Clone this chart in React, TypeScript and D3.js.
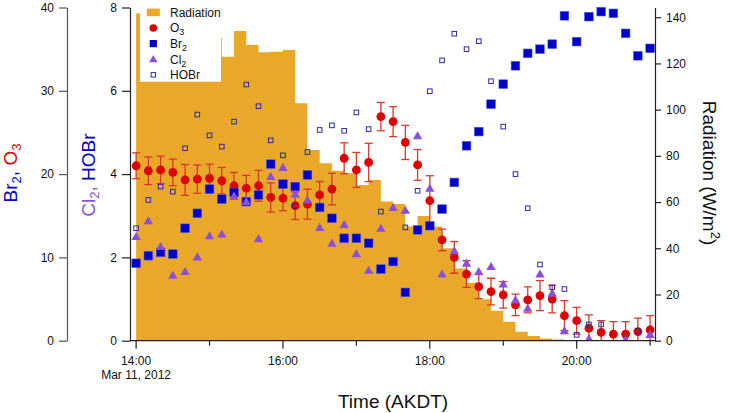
import React, { useEffect, useRef } from "react";
import * as d3 from "d3";

// sample times (10 min steps), Mar 11 2012, AKDT
const times = [
  "14:00", "14:10", "14:20", "14:30", "14:40", "14:50", "15:00", "15:10", "15:20", "15:30",
  "15:40", "15:50", "16:00", "16:10", "16:20", "16:30", "16:40", "16:50", "17:00", "17:10",
  "17:20", "17:30", "17:40", "17:50", "18:00", "18:10", "18:20", "18:30", "18:40", "18:50",
  "19:00", "19:10", "19:20", "19:30", "19:40", "19:50", "20:00", "20:10", "20:20", "20:30",
  "20:40", "20:50", "21:00",
];

// W/m2, step bars starting at each time
const radiation = [
  141.6, 143.0, 144.2, 142.5, 140.0, 137.5, 131.0, 122.9, 134.0, 128.0,
  124.8, 125.1, 125.8, 102.8, 82.5, 76.8, 73.5, 72.5, 67.4, 69.6,
  60.2, 59.2, 49.4, 54.0, 49.4, 40.0, 31.3, 25.1, 17.9, 13.0,
  8.2, 3.9, 2.0, 1.0, 0.5, 0.3, 0.2, 0.1, 0.1, 0.1,
  0.1, 0.1, 0.1,
];

// left axis (Br2, O3)
const o3 = [
  21.0, 20.4, 20.5, 20.2, 19.3, 19.4, 19.5, 19.2, 18.6, 18.3,
  18.6, 17.2, 17.1, 16.2, 16.4, 17.5, 18.2, 21.9, 20.5, 21.4,
  26.9, 26.3, 23.8, 21.1, 16.8, 12.1, 10.0, 8.0, 6.5, 5.9,
  5.5, 4.3, 4.9, 5.4, 5.0, 3.0, 2.4, 1.5, 1.0, 0.8,
  0.8, 1.1, 1.3,
];
const o3Err = [
  1.55, 1.65, 1.65, 1.6, 1.85, 1.7, 1.7, 1.6, 1.6, 1.55,
  1.85, 1.75, 1.5, 1.65, 1.8, 1.6, 1.9, 1.85, 2.1, 2.3,
  1.7, 1.8, 2.05, 1.85, 3.0, 1.3, 1.9, 1.6, 1.45, 1.6,
  1.6, 1.3, 1.55, 1.8, 1.65, 1.8, 1.6, 1.6, 1.4, 1.5,
  1.5, 1.6, 1.7,
];
const br2 = [
  9.3, 10.2, 10.6, 10.4, 13.5, 15.3, 18.2, 17.0, 17.8, 16.7,
  17.5, 21.2, 18.8, 18.5, 19.9, 16.0, 14.7, 12.3, 12.3, 11.7,
  8.6, 9.5, 5.8, 13.3, 13.8, 15.8, 19.0, 23.4, 25.1, 28.4,
  30.8, 33.0, 34.5, 35.0, 35.6, 39.0, 35.9, 38.9, 39.5, 39.3,
  36.9, 34.2, 35.1,
];

// second axis (Cl2, HOBr)
const cl2 = [
  2.50, 2.88, 2.26, 1.57, 1.66, 2.01, 2.52, 2.56, 3.48, 3.34,
  2.45, 3.94, 4.16, 3.52, 3.38, 2.72, 2.34, 2.79, 2.09, 1.69,
  2.70, 3.20, 3.13, 4.92, 3.66, 1.60, 2.16, 1.86, 1.66, 1.78,
  1.36, 0.98, 0.78, 1.60, 1.14, 0.24, null, 0.05, null, null,
  0.03, null, 0.15,
];
const hobr = [
  2.70, 3.38, 3.70, 3.58, 4.62, 5.43, 4.93, 4.66, 5.26, 6.15,
  5.63, 4.81, 4.45, 3.24, 4.53, 5.06, 5.17, 5.04, 5.48, 5.08,
  3.10, null, 2.72, 3.60, 5.99, 6.73, 7.37, 7.00, 7.19, 6.23,
  5.14, 4.00, 3.18, 1.83, 1.28, 1.24, 0.14, 0.39, 0.39, null,
  null, 0.23, null,
];

const leftTicks = [0, 10, 20, 30, 40];
const clTicks = [0, 2, 4, 6, 8];
const radTicks = [0, 20, 40, 60, 80, 100, 120, 140];
const hourTicks = ["14:00", "15:00", "16:00", "17:00", "18:00", "19:00", "20:00", "21:00"];
const hourLabels = ["14:00", "16:00", "18:00", "20:00"];

const ORANGE = "#e9a82a";
const RED = "#dd0000";
const ERR = "#d8392c";
const BLUE = "#0000c8";
const PURPLE = "#8a4fdc";
const HOBR = "#2a2aa6";
const FONT = "'Liberation Sans', Arial, sans-serif";

export default function App() {
  const ref = useRef<SVGSVGElement | null>(null);

  useEffect(() => {
    const svg = d3.select(ref.current);
    svg.selectAll("*").remove();

    const W = 731, H = 413;
    const plot = { left: 130, right: 655, top: 7.5, bottom: 340.7 };
    const parse = d3.timeParse("%Y-%m-%d %H:%M");
    const T = (s: string) => parse("2012-03-11 " + s) as Date;

    const x = d3.scaleTime().domain([T("13:55"), T("21:04")]).range([plot.left, plot.right]);
    const yL = d3.scaleLinear().domain([0, 40]).range([plot.bottom, plot.top]);
    const yC = d3.scaleLinear().domain([0, 8]).range([plot.bottom, plot.top]);
    const yR = d3.scaleLinear().domain([0, 144.2]).range([plot.bottom, plot.top]);

    svg.attr("width", W).attr("height", H).attr("viewBox", `0 0 ${W} ${H}`)
      .style("font-family", FONT);

    svg.append("defs").append("clipPath").attr("id", "plotclip")
      .append("rect").attr("x", plot.left).attr("y", 0)
      .attr("width", plot.right - plot.left).attr("height", plot.bottom);

    const pts = times.map((s, i) => ({
      t: T(s), rad: radiation[i], o3: o3[i], err: o3Err[i], br2: br2[i], cl2: cl2[i], hobr: hobr[i],
    }));

    // radiation step area
    const stepData = pts.map(p => ({ t: p.t, v: p.rad }));
    stepData.push({ t: d3.timeMinute.offset(pts[pts.length - 1].t, 10), v: pts[pts.length - 1].rad });
    const area = d3.area<{ t: Date; v: number }>()
      .x(d => x(d.t)).y0(plot.bottom).y1(d => yR(d.v)).curve(d3.curveStepAfter);
    const g = svg.append("g").attr("clip-path", "url(#plotclip)");
    g.append("path").datum(stepData).attr("d", area as any).attr("fill", ORANGE);

    // O3 error bars
    const eb = g.append("g").attr("stroke", ERR).attr("stroke-width", 1.3).attr("fill", "none");
    pts.forEach(p => {
      const cx = x(p.t), y0 = yL(p.o3 - p.err), y1 = yL(p.o3 + p.err);
      eb.append("line").attr("x1", cx).attr("x2", cx).attr("y1", y0).attr("y2", y1);
      eb.append("line").attr("x1", cx - 4).attr("x2", cx + 4).attr("y1", y0).attr("y2", y0);
      eb.append("line").attr("x1", cx - 4).attr("x2", cx + 4).attr("y1", y1).attr("y2", y1);
    });

    // O3
    g.append("g").selectAll("circle").data(pts).enter().append("circle")
      .attr("cx", d => x(d.t)).attr("cy", d => yL(d.o3)).attr("r", 4.4).attr("fill", RED);

    // Br2
    const sq = 8.6;
    g.append("g").selectAll("rect").data(pts).enter().append("rect")
      .attr("x", d => x(d.t) - sq / 2).attr("y", d => yL(d.br2) - sq / 2)
      .attr("width", sq).attr("height", sq)
      .attr("fill", BLUE).attr("stroke", "#3d55e6").attr("stroke-width", 0.6);

    // Cl2
    const tri = d3.symbol().type(d3.symbolTriangle).size(38);
    g.append("g").selectAll("path").data(pts.filter(p => p.cl2 != null)).enter().append("path")
      .attr("d", tri as any)
      .attr("transform", d => `translate(${x(d.t)},${yC(d.cl2 as number) + 0.8})`)
      .attr("fill", PURPLE);

    // HOBr
    const hs = 4.6;
    g.append("g").selectAll("rect").data(pts.filter(p => p.hobr != null)).enter().append("rect")
      .attr("x", d => x(d.t) - hs / 2).attr("y", d => yC(d.hobr as number) - hs / 2)
      .attr("width", hs).attr("height", hs)
      .attr("fill", "none").attr("stroke", HOBR).attr("stroke-width", 1);

    // axes
    const styleAxis = (sel: any, color: string) => {
      sel.selectAll("path").attr("stroke", color).attr("stroke-width", 1.2);
      sel.selectAll("line").attr("stroke", color).attr("stroke-width", 1.2);
      sel.selectAll("text").attr("fill", "#111").style("font-size", "12px").style("font-family", FONT);
    };

    const aL = svg.append("g").attr("transform", "translate(67,0)")
      .call(d3.axisLeft(yL).tickValues(leftTicks).tickSize(8).tickSizeOuter(0).tickPadding(5).tickFormat(d3.format("d")) as any);
    styleAxis(aL, "#555");

    const aC = svg.append("g").attr("transform", `translate(${plot.left},0)`)
      .call(d3.axisLeft(yC).tickValues(clTicks).tickSize(8).tickSizeOuter(0).tickPadding(5).tickFormat(d3.format("d")) as any);
    styleAxis(aC, "#222");

    const aR = svg.append("g").attr("transform", `translate(${plot.right},0)`)
      .call(d3.axisRight(yR).tickValues(radTicks).tickSize(6).tickSizeOuter(0).tickPadding(5).tickFormat(d3.format("d")) as any);
    styleAxis(aR, "#222");

    // x axis
    const xa = svg.append("g");
    xa.append("line").attr("x1", plot.left).attr("x2", plot.right)
      .attr("y1", plot.bottom).attr("y2", plot.bottom).attr("stroke", "#222").attr("stroke-width", 1.2);
    hourTicks.forEach(h => {
      const major = hourLabels.includes(h);
      xa.append("line").attr("x1", x(T(h))).attr("x2", x(T(h)))
        .attr("y1", plot.bottom).attr("y2", plot.bottom + (major ? 8 : 5))
        .attr("stroke", "#222").attr("stroke-width", 1.2);
    });
    hourLabels.forEach(h => {
      xa.append("text").attr("x", x(T(h))).attr("y", 365).attr("text-anchor", "middle")
        .style("font-size", "12px").attr("fill", "#111").text(h);
    });
    xa.append("text").attr("x", x(T("14:00"))).attr("y", 379).attr("text-anchor", "middle")
      .style("font-size", "12px").attr("fill", "#111").text("Mar 11, 2012");

    // axis titles
    svg.append("text").attr("x", 393).attr("y", 408).attr("text-anchor", "middle")
      .style("font-size", "19px").attr("fill", "#111").text("Time (AKDT)");

    const t1 = svg.append("text").attr("transform", "translate(17,173) rotate(-90)")
      .attr("text-anchor", "middle").style("font-size", "19px");
    t1.append("tspan").attr("fill", BLUE).text("Br");
    t1.append("tspan").attr("fill", BLUE).attr("dy", 4).style("font-size", "13px").text("2");
    t1.append("tspan").attr("fill", BLUE).attr("dy", -4).text(", ");
    t1.append("tspan").attr("fill", RED).text("O");
    t1.append("tspan").attr("fill", RED).attr("dy", 4).style("font-size", "13px").text("3");

    const t2 = svg.append("text").attr("transform", "translate(95,175) rotate(-90)")
      .attr("text-anchor", "middle").style("font-size", "19px");
    t2.append("tspan").attr("fill", PURPLE).text("Cl");
    t2.append("tspan").attr("fill", PURPLE).attr("dy", 4).style("font-size", "13px").text("2");
    t2.append("tspan").attr("fill", PURPLE).attr("dy", -4).text(", ");
    t2.append("tspan").attr("fill", BLUE).text("HOBr");

    const t3 = svg.append("text").attr("transform", "translate(703,173) rotate(90)")
      .attr("text-anchor", "middle").style("font-size", "19px").attr("fill", "#111");
    t3.append("tspan").text("Radiation (W/m");
    t3.append("tspan").attr("dy", -8).style("font-size", "13px").text("2");
    t3.append("tspan").attr("dy", 8).text(")");

    // legend
    const lg = svg.append("g");
    lg.append("rect").attr("x", 140).attr("y", 0).attr("width", 81).attr("height", 81.7).attr("fill", "#fff");
    const rows = [
      { label: "Radiation", sub: "" },
      { label: "O", sub: "3" },
      { label: "Br", sub: "2" },
      { label: "Cl", sub: "2" },
      { label: "HOBr", sub: "" },
    ];
    rows.forEach((r, i) => {
      const base = 16.7 + i * 15.6;
      const cy = base - 4.3;
      const mx = 153.3;
      if (i === 0) lg.append("rect").attr("x", mx - 6.5).attr("y", cy - 3.8).attr("width", 13).attr("height", 7.6).attr("fill", ORANGE);
      if (i === 1) lg.append("circle").attr("cx", mx).attr("cy", cy).attr("r", 3.8).attr("fill", RED);
      if (i === 2) lg.append("rect").attr("x", mx - 3.6).attr("y", cy - 3.6).attr("width", 7.2).attr("height", 7.2).attr("fill", BLUE);
      if (i === 3) lg.append("path").attr("d", d3.symbol().type(d3.symbolTriangle).size(30)() as string)
        .attr("transform", `translate(${mx},${cy + 0.6})`).attr("fill", PURPLE);
      if (i === 4) lg.append("rect").attr("x", mx - 2.2).attr("y", cy - 2.2).attr("width", 4.4).attr("height", 4.4)
        .attr("fill", "none").attr("stroke", HOBR).attr("stroke-width", 1);
      const tx = lg.append("text").attr("x", 170).attr("y", base).style("font-size", "12px").attr("fill", "#111");
      tx.append("tspan").text(r.label);
      if (r.sub) tx.append("tspan").attr("dy", 3).style("font-size", "9px").text(r.sub);
    });
  }, []);

  return <svg ref={ref} style={{ position: "absolute", left: 0, top: 0 }} />;
}
